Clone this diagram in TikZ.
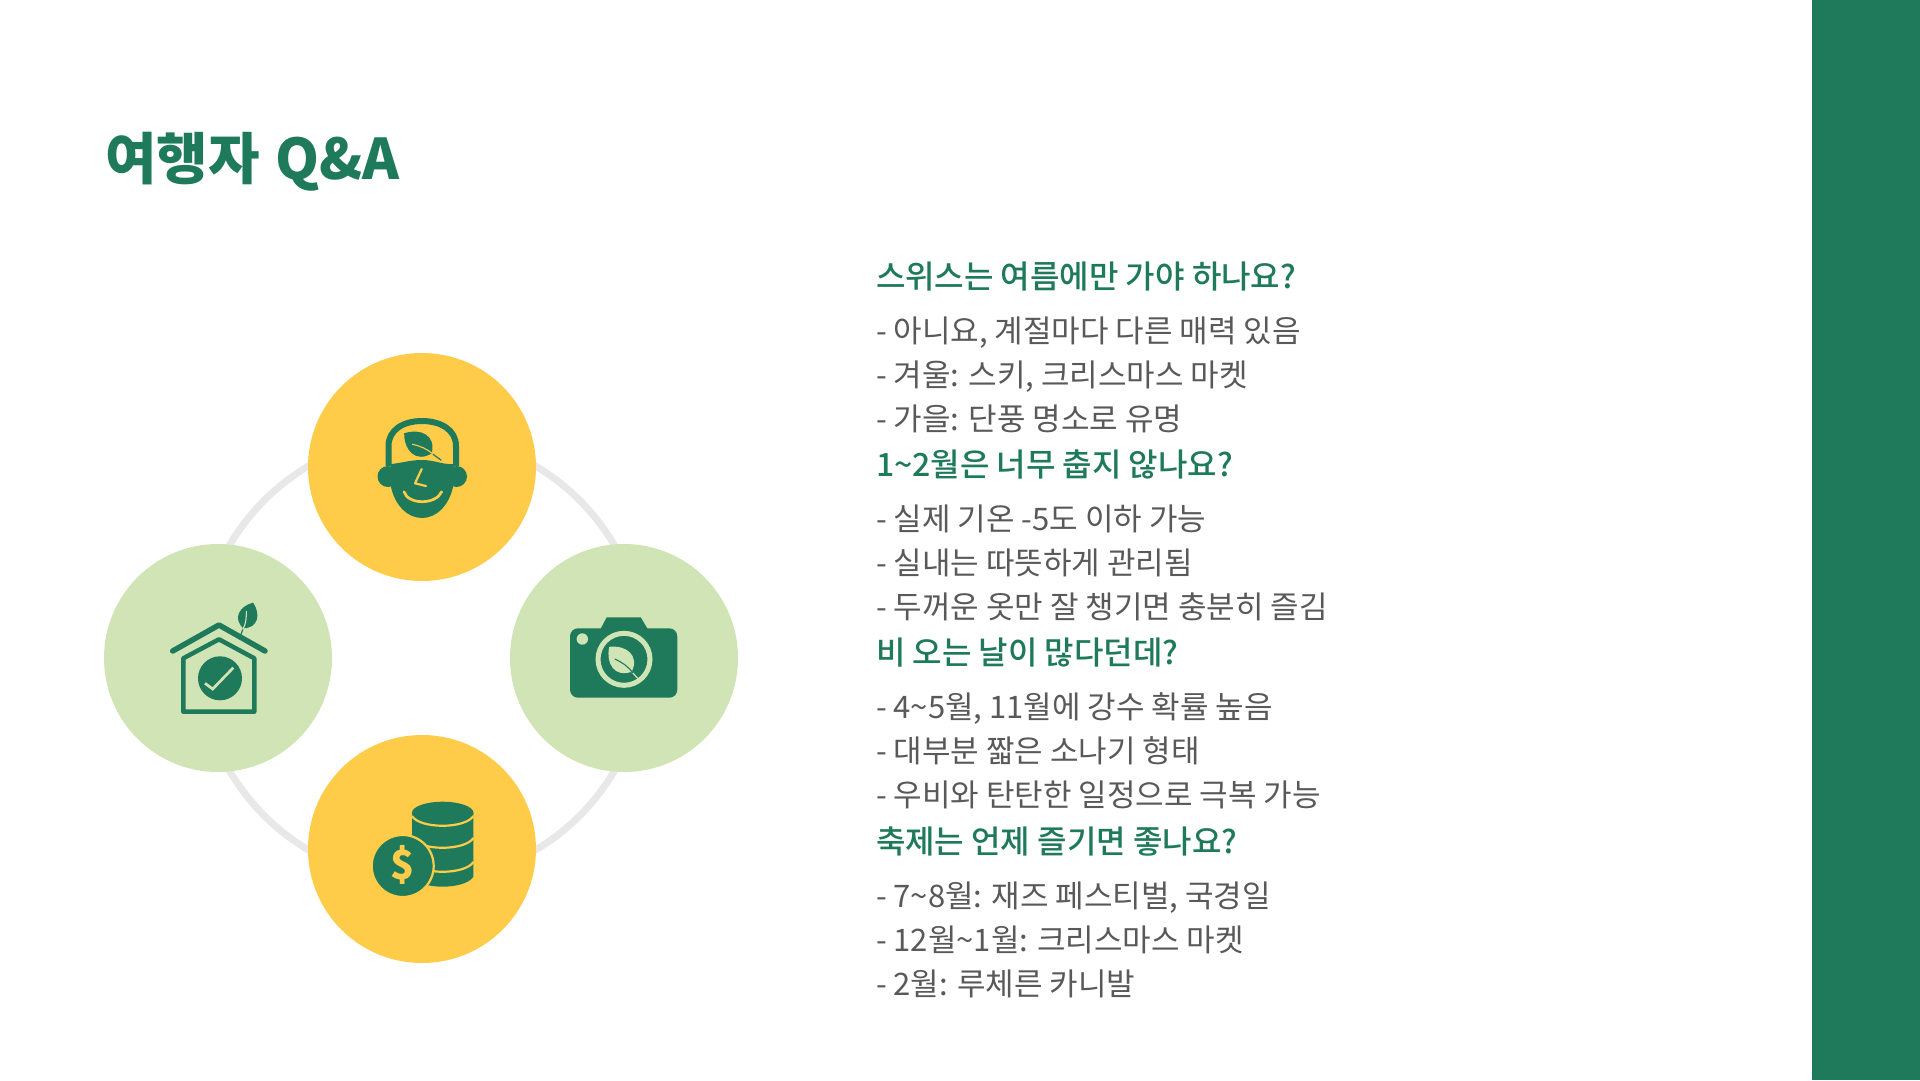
\documentclass[tikz,border=0pt]{standalone}
\usepackage{fontspec}
\usepackage{tikz}
\usetikzlibrary{positioning}
\setmainfont{Noto Sans CJK KR}
\newfontfamily\mediumfont{Noto Sans CJK KR Medium}

\definecolor{darkgreen}{HTML}{1E7A5B}
\definecolor{sungold}{HTML}{FFCC4A}
\definecolor{palegreen}{HTML}{D0E4B5}
\definecolor{ringgrey}{HTML}{E8E8E8}
\definecolor{bodygrey}{HTML}{595959}

% leaf: x, y, rotation, length, body colour, vein colour
\newcommand{\leafmark}[6]{
  \begin{scope}[shift={(#1,#2)},rotate=#3,scale=#4]
    \fill[#5] (0,0) .. controls (-.5,-.2) and (-.42,-.7) .. (0,-1)
      .. controls (.42,-.7) and (.5,-.2) .. (0,0) -- cycle;
    \draw[#5,line width=1.2pt] (0,0) -- (0,.35);
    \draw[#6,line width=1.1pt] (0,.05) .. controls (.03,-.2) and (-.03,-.4) .. (-.12,-.62);
  \end{scope}
}

\begin{document}
\begin{tikzpicture}[x=1pt,y=-1pt,
  yellow node/.style={circle,fill=sungold,minimum size=228pt,inner sep=0pt},
  green node/.style={circle,fill=palegreen,minimum size=228pt,inner sep=0pt},
  ring node/.style={circle,draw=ringgrey,line width=7pt,minimum size=446pt,inner sep=0pt},
  title node/.style={anchor=west,inner sep=0pt,text=darkgreen,font=\fontsize{56}{60}\selectfont\bfseries},
  question node/.style={inner sep=0pt,outer sep=0pt,text=darkgreen,text height=25pt,text depth=9pt,font=\fontsize{32}{36}\selectfont\mediumfont},
  answer node/.style={inner sep=0pt,outer sep=0pt,text=bodygrey,text height=25pt,text depth=9pt,font=\fontsize{31}{34}\selectfont}]

  \useasboundingbox (0,0) rectangle (1920,1080);
  \fill[white] (0,0) rectangle (1920,1080);
  \fill[darkgreen] (1812,0) rectangle (1920,1080);

  \node[title node] (title) at (105,162) {여행자\hspace{3pt} Q\&A};

  \node[ring node] (ring) at (422,658) {};
  \node[yellow node] (guide) at (422,467) {};
  \node[green node] (home) at (218,658) {};
  \node[green node] (photo) at (624,658) {};
  \node[yellow node] (money) at (422,849) {};

  % guide icon
  \draw[darkgreen,line width=6pt] (388.5,466) -- (388.5,446) .. controls (388.5,430) and (403,421) .. (422,421)
    .. controls (441,421) and (456,430) .. (456,446) -- (456,466);
  \fill[darkgreen] (388,476.5) circle (10.5) (456.5,476.5) circle (10.5);
  \fill[darkgreen] (391,464) .. controls (402,463) and (410,460) .. (422,460)
    .. controls (435,460) and (443,465) .. (454,464) -- (453,487)
    .. controls (449,505) and (437,518) .. (422,518)
    .. controls (407,518) and (395,505) .. (391,487) -- cycle;
  \draw[sungold,line width=2.2pt,line cap=round,line join=round] (421.7,469) -- (415,483.3) -- (426,486);
  \draw[sungold,line width=2.7pt,line cap=round] (404,491.7) .. controls (408,505) and (436,505) .. (441.7,491.7);
  \leafmark{431.7}{453.3}{54}{34}{darkgreen}{sungold}

  % home icon
  \draw[darkgreen,line width=5.5pt,line cap=round,line join=round] (172.7,651) -- (219,625) -- (265,651);
  \draw[darkgreen,line width=4.5pt,line join=round] (183.3,658.3) -- (219,639.3) -- (254.3,658.3)
    -- (254.3,711.7) -- (183.3,711.7) -- cycle;
  \fill[darkgreen] (220,678.3) circle (22);
  \draw[palegreen,line width=2.7pt] (205,683.3) -- (212.7,689) -- (233.3,667.7);
  \leafmark{243.3}{628.3}{-21}{27.5}{darkgreen}{palegreen}

  % photo icon
  \fill[darkgreen] (600,630) -- (606.7,617.3) -- (640.7,617.3) -- (648.3,630) -- cycle;
  \fill[darkgreen,rounded corners=8pt] (570,628.3) rectangle (677.3,697.7);
  \fill[palegreen] (582.3,639) circle (5.7);
  \draw[palegreen,line width=5pt] (624,659.3) circle (26);
  \leafmark{631.7}{671.7}{42}{33.5}{palegreen}{darkgreen}

  % money icon
  \fill[darkgreen] (412,812.7) -- (412,876.7) .. controls (420,890) and (465,890) .. (473.4,876.7) -- (473.4,812.7) -- cycle;
  \fill[darkgreen] (442.7,812.7) ellipse [x radius=30.7,y radius=11];
  \draw[sungold,line width=2.2pt] (412,816) .. controls (420,829) and (465,829) .. (473.4,816);
  \draw[sungold,line width=2.2pt] (412,838) .. controls (420,851) and (465,851) .. (473.4,838);
  \draw[sungold,line width=2.2pt] (412,862) .. controls (420,875) and (465,875) .. (473.4,862);
  \fill[darkgreen,draw=sungold,line width=2.2pt] (402.7,866) circle (31);
  \node[inner sep=0pt,text=sungold,font=\fontsize{40}{44}\selectfont\bfseries] (dollar) at (402.7,865) {\$};

  % questions and answers
  \node[question node,anchor=west] (q1) at (876,280.5) {스위스는 여름에만 가야 하나요?};
  \node[answer node] (a1) [below right=20pt and 0pt of q1.south west] {- 아니요, 계절마다 다른 매력 있음};
  \node[answer node] (a2) [below right=10pt and 0pt of a1.south west] {- 겨울: 스키, 크리스마스 마켓};
  \node[answer node] (a3) [below right=10pt and 0pt of a2.south west] {- 가을: 단풍 명소로 유명};
  \node[question node] (q2) [below right=12.2pt and 0pt of a3.south west] {1\textasciitilde 2월은 너무 춥지 않나요?};
  \node[answer node] (a4) [below right=20pt and 0pt of q2.south west] {- 실제 기온 -5도 이하 가능};
  \node[answer node] (a5) [below right=10pt and 0pt of a4.south west] {- 실내는 따뜻하게 관리됨};
  \node[answer node] (a6) [below right=10pt and 0pt of a5.south west] {- 두꺼운 옷만 잘 챙기면 충분히 즐김};
  \node[question node] (q3) [below right=12.2pt and 0pt of a6.south west] {비 오는 날이 많다던데?};
  \node[answer node] (a7) [below right=20pt and 0pt of q3.south west] {- 4\textasciitilde 5월, 11월에 강수 확률 높음};
  \node[answer node] (a8) [below right=10pt and 0pt of a7.south west] {- 대부분 짧은 소나기 형태};
  \node[answer node] (a9) [below right=10pt and 0pt of a8.south west] {- 우비와 탄탄한 일정으로 극복 가능};
  \node[question node] (q4) [below right=12.2pt and 0pt of a9.south west] {축제는 언제 즐기면 좋나요?};
  \node[answer node] (a10) [below right=20pt and 0pt of q4.south west] {- 7\textasciitilde 8월: 재즈 페스티벌, 국경일};
  \node[answer node] (a11) [below right=10pt and 0pt of a10.south west] {- 12월\textasciitilde 1월: 크리스마스 마켓};
  \node[answer node] (a12) [below right=10pt and 0pt of a11.south west] {- 2월: 루체른 카니발};
\end{tikzpicture}
\end{document}
